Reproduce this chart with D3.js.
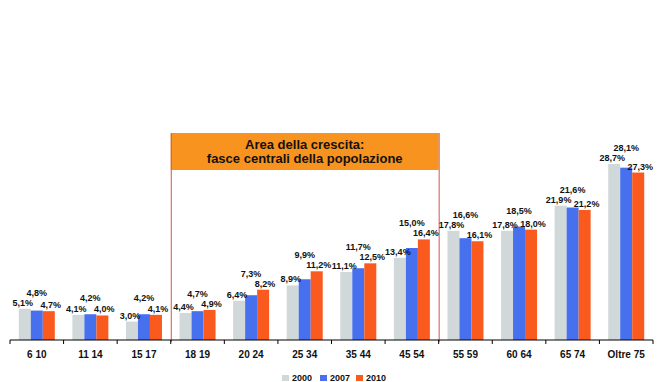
<!DOCTYPE html>
<html><head><meta charset="utf-8">
<script src="https://cdn.jsdelivr.net/npm/d3@7"></script>
<style>body{margin:0;background:#fff}svg{display:block}text{font-family:"Liberation Sans",Arial,sans-serif;font-weight:bold}</style>
</head><body><svg id="c" width="668" height="382"></svg>
<script>
const categories = ["6 10","11 14","15 17","18 19","20 24","25 34","35 44","45 54","55 59","60 64","65 74","Oltre 75"];
const series = ["2000","2007","2010"];
const v2000 = [5.1,4.1,3.0,4.4,6.4,8.9,11.1,13.4,17.8,17.8,21.9,28.7];
const v2007 = [4.8,4.2,4.2,4.7,7.3,9.9,11.7,15.0,16.6,18.5,21.6,28.1];
const v2010 = [4.7,4.0,4.1,4.9,8.2,11.2,12.5,16.4,16.1,18.0,21.2,27.3];
const highlightFrom = "18 19", highlightTo = "45 54";
const boxLines = ["Area della crescita:","fasce centrali della popolazione"];
const colors = ["#D0D8DA","#4670EE","#FA5A1E"];

const svg = d3.select("#c");
const x = d3.scaleBand().domain(categories).range([10,653]).paddingInner(0).paddingOuter(0);
const y = d3.scaleLinear().domain([0,30]).range([340,156]);
const bw = 12;
const data = [v2000,v2007,v2010];

// highlight box
const bx0 = x(highlightFrom), bx1 = x(highlightTo)+x.bandwidth();
svg.append("rect").attr("x",bx0).attr("y",133).attr("width",bx1-bx0).attr("height",37).attr("fill","#F7931E");
svg.selectAll("line.vb").data([bx0,bx1]).enter().append("line")
  .attr("x1",d=>d+0.5).attr("x2",d=>d+0.5).attr("y1",133).attr("y2",342)
  .attr("stroke","#D9534A").attr("stroke-width",1);
svg.selectAll("text.bt").data(boxLines).enter().append("text")
  .attr("x",(bx0+bx1)/2).attr("y",(d,i)=>149+i*14).attr("text-anchor","middle")
  .attr("font-size",13).attr("fill","#111").text(d=>d);

// bars
data.forEach((vals,s)=>{
  svg.append("g").selectAll("rect").data(vals).enter().append("rect")
    .attr("x",(d,i)=>x(categories[i])+x.bandwidth()/2-1.5*bw+s*bw)
    .attr("y",d=>y(d)).attr("width",bw).attr("height",d=>y(0)-y(d))
    .attr("fill",colors[s]);
});
// labels: 2000 left/low, 2007 centered/raised, 2010 right/low
const lblX = [-14,0,14];
data.forEach((vals,s)=>{
  svg.append("g").selectAll("text").data(vals).enter().append("text")
    .attr("x",(d,i)=>x(categories[i])+x.bandwidth()/2+lblX[s])
    .attr("y",(d,i)=>{
      if(s===1){ const m=Math.max(v2000[i],v2007[i],v2010[i]); return y(m)-13; }
      return y(d)-3;
    })
    .attr("text-anchor","middle").attr("font-size",9).attr("fill","#111")
    .text(d=>d.toFixed(1).replace(".",",")+"%");
});

// axis
const ax = svg.append("g").attr("transform","translate(0,340)");
ax.append("line").attr("x1",10).attr("x2",653).attr("stroke","#000");
ax.selectAll("line.t").data(categories.map(c=>x(c)).concat([653])).enter().append("line")
  .attr("x1",d=>d).attr("x2",d=>d).attr("y1",0).attr("y2",4).attr("stroke","#000");
ax.selectAll("text").data(categories).enter().append("text")
  .attr("x",d=>x(d)+x.bandwidth()/2).attr("y",18).attr("text-anchor","middle")
  .attr("font-size",10).attr("fill","#111").text(d=>d);

// legend
const lx = [282,320,356];
series.forEach((s,i)=>{
  svg.append("rect").attr("x",lx[i]).attr("y",375).attr("width",7).attr("height",6).attr("fill",colors[i]);
  svg.append("text").attr("x",lx[i]+10).attr("y",381).attr("font-size",9).attr("fill","#111").text(s);
});
</script></body></html>
